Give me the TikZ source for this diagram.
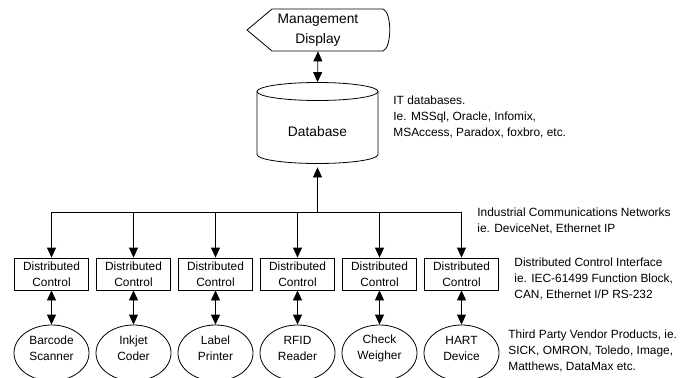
\documentclass[tikz,border=0pt]{standalone}
\usepackage{fontspec}
\setmainfont{Liberation Sans}
\usetikzlibrary{arrows.meta,shapes.geometric}

\begin{document}
\begin{tikzpicture}[x=1pt, y=-1pt, line width=0.8pt,
  smallfont/.style={font=\fontsize{11.9}{16}\selectfont},
  bigfont/.style={font=\fontsize{13.8}{20}\selectfont},
  tip/.style={-{Triangle[length=10pt,width=9pt]}},
  dtip/.style={{Triangle[length=10pt,width=9pt]}-{Triangle[length=10pt,width=9pt]}},
  ctrlbox/.style={draw, smallfont, align=center, minimum width=74pt, minimum height=32pt, inner sep=0pt},
  device/.style={draw, ellipse, minimum width=75pt, minimum height=56pt, inner sep=0pt},
  devtext/.style={smallfont, align=center, inner sep=0pt},
  note/.style={smallfont, anchor=north west, align=left, inner sep=0pt}
]
\useasboundingbox (0,0) rectangle (684,377);

% management display (display-type flowchart symbol)
\draw (247,30) -- (272,9) -- (383,9)
  .. controls (392,12) and (392,48) .. (383,51) -- (272,51) -- cycle;
\node[bigfont, align=center, minimum height=42pt, inner sep=0pt] (disp) at (318,30) {Management\\Display};

% database cylinder
\node[minimum width=121pt, minimum height=84.5pt, inner sep=0pt] (db) at (317.5,124.75) {};
\draw (317.5,91.5) ellipse[x radius=60.5, y radius=9];
\draw (257,91.5) -- (257,154.5)
  .. controls (257,159.5) and (284.1,163.5) .. (317.5,163.5)
  .. controls (350.9,163.5) and (378,159.5) .. (378,154.5) -- (378,91.5);
\node[bigfont, inner sep=0pt] (dbtext) at (317.5,132) {Database};

\draw[dtip] (disp.south) -- (db.north);

% network bus
\coordinate (busL) at (51.5,212);
\coordinate (busR) at (461.5,212);
\coordinate (busM) at (317.5,212);
\draw (busL) -- (busR);
\draw[tip] (busM) -- (db.south);

% distributed control interfaces and devices
\foreach \i/\x/\dev in {1/51.5/Barcode\\Scanner, 2/133.5/Inkjet\\Coder, 3/215.5/Label\\Printer,
                        4/297.5/RFID\\Reader, 5/379.5/Check\\Weigher, 6/461.5/HART\\Device}{
  \node[ctrlbox] (c\i) at (\x,274) {Distributed\\Control};
  \node[device] (d\i) at (\x,353) {};
  \node[devtext] (t\i) at (\x,348.5) {\dev};
  \draw[tip] (c\i |- busL) -- (c\i.north);
  \draw[dtip] (c\i.south) -- (d\i.north);
}

% descriptions
\node[note] (n1) at (393,95.7) {IT databases.\\Ie. MSSql, Oracle, Infomix,\\MSAccess, Paradox, foxbro, etc.};
\node[note] (n2) at (477,207.7) {Industrial Communications Networks\\ie. DeviceNet, Ethernet IP};
\node[note] (n3) at (514,257.7) {Distributed Control Interface\\ie. IEC-61499 Function Block,\\CAN, Ethernet I/P RS-232};
\node[note] (n4) at (508,329.7) {Third Party Vendor Products, ie.\\SICK, OMRON, Toledo, Image,\\Matthews, DataMax etc.};
\end{tikzpicture}
\end{document}
